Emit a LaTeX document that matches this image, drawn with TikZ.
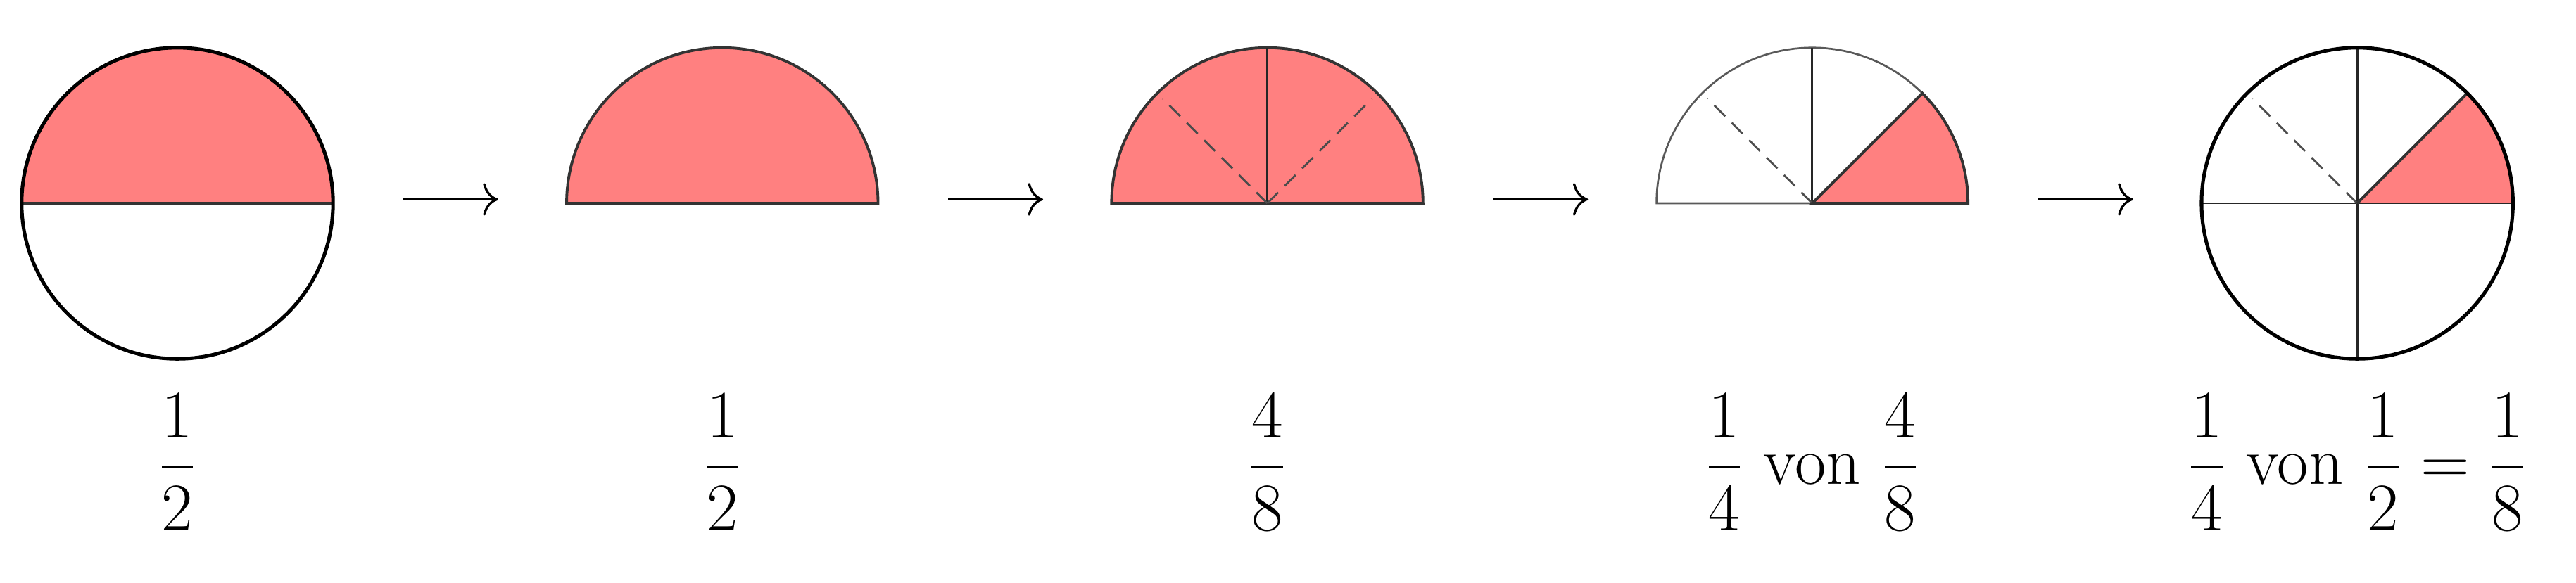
\documentclass[tikz,border=0pt]{standalone}
\usepackage{amsmath}
\usetikzlibrary{arrows.meta, positioning}

\definecolor{part}{RGB}{255,128,128}

\begin{document}
\begin{tikzpicture}[
outline/.style={line width=1.3pt, black},
rim/.style={line width=1pt, black!80},
thinrim/.style={line width=0.7pt, black!65},
cut/.style={line width=0.75pt, black!85},
fold/.style={line width=0.75pt, black!70, dash pattern=on 5.6pt off 3.4pt},
piece/.style={fill=part},
arrow/.style={-{Computer Modern Rightarrow[length=5.5pt, width=12pt]}, line width=0.85pt},
lbl/.style={anchor=base, font=\Huge, inner sep=0pt}
]
\useasboundingbox (-2.278,-4.873) rectangle (30.81,2.613);

% centres of the five pictures
\coordinate (whole) at (0,0);
\coordinate (half) at (7,0);
\coordinate (eighths) at (14,0);
\coordinate (quarter) at (21,0);
\coordinate (result) at (28,0);

% 1/2 of the circle
\fill[piece] (whole) ++(2,0) arc (0:180:2) -- cycle;
\draw[rim] ([xshift=-2cm]whole) -- ([xshift=2cm]whole);
\draw[outline] (whole) circle (2);

% the half alone
\draw[rim, piece] (half) ++(2,0) arc (0:180:2) -- cycle;

% the half cut in 4/8
\draw[rim, piece] (eighths) ++(2,0) arc (0:180:2) -- cycle;
\draw[cut] (eighths) -- ++(90:2);
\draw[fold] (eighths) -- ++(135:1.9);
\draw[fold] (eighths) -- ++(45:1.9);

% 1/4 of 4/8
\draw[thinrim] (quarter) ++(2,0) arc (0:180:2) -- cycle;
\draw[cut] (quarter) -- ++(90:2);
\draw[fold] (quarter) -- ++(135:1.9);
\draw[rim, piece] (quarter) -- ++(2,0) arc (0:45:2) -- cycle;

% back in the whole circle
\fill[piece] (result) -- ++(2,0) arc (0:45:2) -- cycle;
\draw[cut] ([xshift=-2cm]result) -- ([xshift=2cm]result);
\draw[cut] ([yshift=-2cm]result) -- ([yshift=2cm]result);
\draw[fold] (result) -- ++(135:1.9);
\draw[rim] (result) -- ++(45:2);
\draw[outline] (result) circle (2);

% arrows
\draw[arrow] ([xshift=2.9cm, yshift=0.05cm]whole) -- ([xshift=-2.88cm, yshift=0.05cm]half);
\draw[arrow] ([xshift=2.9cm, yshift=0.05cm]half) -- ([xshift=-2.88cm, yshift=0.05cm]eighths);
\draw[arrow] ([xshift=2.9cm, yshift=0.05cm]eighths) -- ([xshift=-2.88cm, yshift=0.05cm]quarter);
\draw[arrow] ([xshift=2.9cm, yshift=0.05cm]quarter) -- ([xshift=-2.88cm, yshift=0.05cm]result);

% labels
\node[lbl] (wholelbl) at ([yshift=-3.607cm]whole) {$\displaystyle\frac{1}{2}$};
\node[lbl] (halflbl) at ([yshift=-3.607cm]half) {$\displaystyle\frac{1}{2}$};
\node[lbl] (eighthslbl) at ([yshift=-3.607cm]eighths) {$\displaystyle\frac{4}{8}$};
\node[lbl] (quarterlbl) at ([yshift=-3.607cm]quarter) {$\displaystyle\frac{1}{4}$ von $\displaystyle\frac{4}{8}$};
\node[lbl] (resultlbl) at ([yshift=-3.607cm]result) {$\displaystyle\frac{1}{4}$ von $\displaystyle\frac{1}{2} = \frac{1}{8}$};

\end{tikzpicture}
\end{document}
